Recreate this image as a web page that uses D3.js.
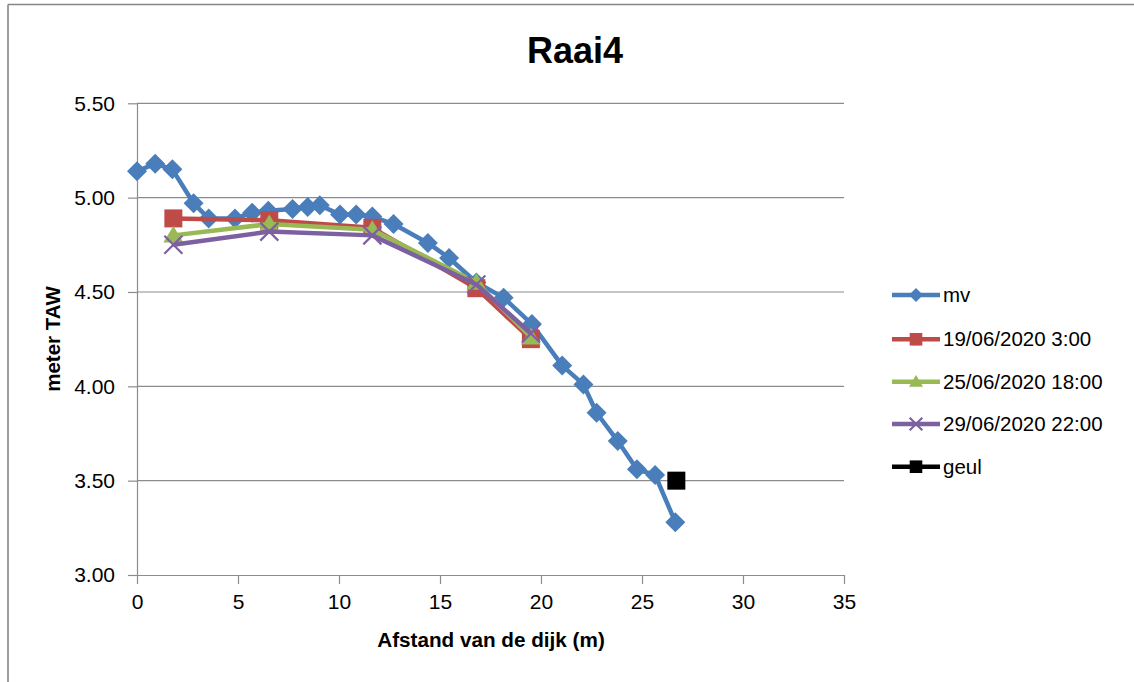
<!DOCTYPE html>
<html>
<head>
<meta charset="utf-8">
<script src="https://cdn.jsdelivr.net/npm/d3@7"></script>
<style>
  html, body { margin: 0; padding: 0; background: #fff; }
  svg { display: block; }
  text { font-family: "Liberation Sans", Arial, sans-serif; fill: #000; }
</style>
</head>
<body>
<svg id="chart" width="1134" height="682"></svg>
<script>
// ---- data ----
const titleText = "Raai4";
const xLabel = "Afstand van de dijk (m)";
const yLabel = "meter TAW";
const xTicks = [0, 5, 10, 15, 20, 25, 30, 35];
const yTicks = [3.00, 3.50, 4.00, 4.50, 5.00, 5.50];

const mvX = [0, 0.9, 1.75, 2.8, 3.55, 4.85, 5.7, 6.5, 7.7, 8.45, 9.05, 10.05, 10.85, 11.65, 12.7, 14.4, 15.45, 16.8, 18.15, 19.55, 21.05, 22.1, 22.75, 23.8, 24.75, 25.65, 26.65];
const mvY = [5.14, 5.18, 5.15, 4.97, 4.89, 4.89, 4.92, 4.93, 4.94, 4.95, 4.96, 4.91, 4.91, 4.90, 4.86, 4.76, 4.68, 4.55, 4.47, 4.33, 4.11, 4.01, 3.86, 3.71, 3.56, 3.53, 3.28];

const measX = [1.8, 6.55, 11.65, 16.8, 19.5];
const s19Y = [4.89, 4.88, 4.84, 4.52, 4.25];
const s25Y = [4.80, 4.86, 4.83, 4.55, 4.26];
const s29Y = [4.75, 4.82, 4.80, 4.54, 4.28];

const geulX = [26.7];
const geulY = [3.50];

const seriesNames = ["mv", "19/06/2020 3:00", "25/06/2020 18:00", "29/06/2020 22:00", "geul"];
const seriesColors = ["#4A7EBB", "#BE4B48", "#98B954", "#7D60A0", "#000000"];
const seriesMarkers = ["diamond", "square", "triangle", "x", "square"];

// ---- build ----
const series = [
  {xs: mvX, ys: mvY},
  {xs: measX, ys: s19Y},
  {xs: measX, ys: s25Y},
  {xs: measX, ys: s29Y},
  {xs: geulX, ys: geulY}
].map((s, i) => ({
  name: seriesNames[i], color: seriesColors[i], marker: seriesMarkers[i],
  pts: s.xs.map((x, j) => ({x, y: s.ys[j]}))
}));

const svg = d3.select("#chart");
const L = 137, R = 844, T = 103.3, B = 575;
const x = d3.scaleLinear().domain([0, 35]).range([L, R]);
const y = d3.scaleLinear().domain([3, 5.5]).range([B, T]);

// frame (top & left border)
svg.append("line").attr("x1", 8).attr("x2", 1134).attr("y1", 4.5).attr("y2", 4.5)
  .attr("stroke", "#868686").attr("stroke-width", 1.6);
svg.append("line").attr("x1", 8).attr("x2", 8).attr("y1", 4.5).attr("y2", 682)
  .attr("stroke", "#868686").attr("stroke-width", 1.6);

// gridlines
svg.append("g").selectAll("line").data(yTicks.filter(d => d > 3)).join("line")
  .attr("x1", L).attr("x2", R).attr("y1", d => y(d)).attr("y2", d => y(d))
  .attr("stroke", "#8c8c8c").attr("stroke-width", 1.2);

// axes
const yAxis = d3.axisLeft(y).tickValues(yTicks).tickFormat(d3.format(".2f")).tickSizeInner(9).tickSizeOuter(0).tickPadding(13);
const gy = svg.append("g").attr("transform", `translate(${L},0)`).call(yAxis);
const xAxis = d3.axisBottom(x).tickValues(xTicks).tickFormat(d3.format("d")).tickSizeInner(9).tickSizeOuter(0).tickPadding(10);
const gx = svg.append("g").attr("transform", `translate(0,${B})`).call(xAxis);
[gx, gy].forEach(g => {
  g.select(".domain").attr("stroke", "#8c8c8c").attr("stroke-width", 1.2);
  g.selectAll(".tick line").attr("stroke", "#8c8c8c").attr("stroke-width", 1.2);
  g.selectAll(".tick text").attr("font-family", "Liberation Sans, Arial, sans-serif").attr("font-size", 21).attr("fill", "#1a1a1a");
});

// marker paths
function markerPath(type, r) {
  if (type === "diamond") return `M0,${-r}L${r},0L0,${r}L${-r},0Z`;
  if (type === "square") { const s = r * 0.9; return `M${-s},${-s}H${s}V${s}H${-s}Z`; }
  if (type === "triangle") { const h = r * 0.95; return `M0,${-h}L${r},${h * 0.75}L${-r},${h * 0.75}Z`; }
  if (type === "x") { const s = r * 0.9; return `M${-s},${-s}L${s},${s}M${s},${-s}L${-s},${s}`; }
}
function drawMarker(g, type, color, r) {
  const p = g.append("path").attr("d", markerPath(type, r));
  if (type === "x") p.attr("fill", "none").attr("stroke", color).attr("stroke-width", 2.2);
  else p.attr("fill", color);
}

const line = d3.line().x(d => x(d.x)).y(d => y(d.y));
series.forEach(s => {
  const g = svg.append("g");
  if (s.pts.length > 1) {
    g.append("path").datum(s.pts).attr("d", line).attr("fill", "none")
      .attr("stroke", s.color).attr("stroke-width", 4.5).attr("stroke-linejoin", "round");
  }
  s.pts.forEach(p => {
    const mg = g.append("g").attr("transform", `translate(${x(p.x)},${y(p.y)})`);
    drawMarker(mg, s.marker, s.color, 10);
  });
});

// title
svg.append("text").attr("x", 575).attr("y", 62.5).attr("text-anchor", "middle")
  .attr("font-size", 36).attr("font-weight", "bold").text(titleText);

// axis titles
svg.append("text").attr("x", 491).attr("y", 647).attr("text-anchor", "middle")
  .attr("font-size", 20.7).attr("font-weight", "bold").text(xLabel);
svg.append("text").attr("transform", "translate(60,339) rotate(-90)").attr("text-anchor", "middle")
  .attr("font-size", 20.5).attr("font-weight", "bold").text(yLabel);

// legend
const legY = [295, 339.3, 381.7, 424, 466.7];
series.forEach((s, i) => {
  const g = svg.append("g").attr("transform", `translate(0,${legY[i]})`);
  g.append("line").attr("x1", 892).attr("x2", 940).attr("y1", 0).attr("y2", 0)
    .attr("stroke", s.color).attr("stroke-width", 4.5);
  const mg = g.append("g").attr("transform", "translate(916,0)");
  drawMarker(mg, s.marker, s.color, 7);
  g.append("text").attr("x", 943).attr("y", 0).attr("dy", "0.35em")
    .attr("font-size", 20.5).attr("fill", "#1a1a1a").text(s.name);
});
</script>
</body>
</html>
